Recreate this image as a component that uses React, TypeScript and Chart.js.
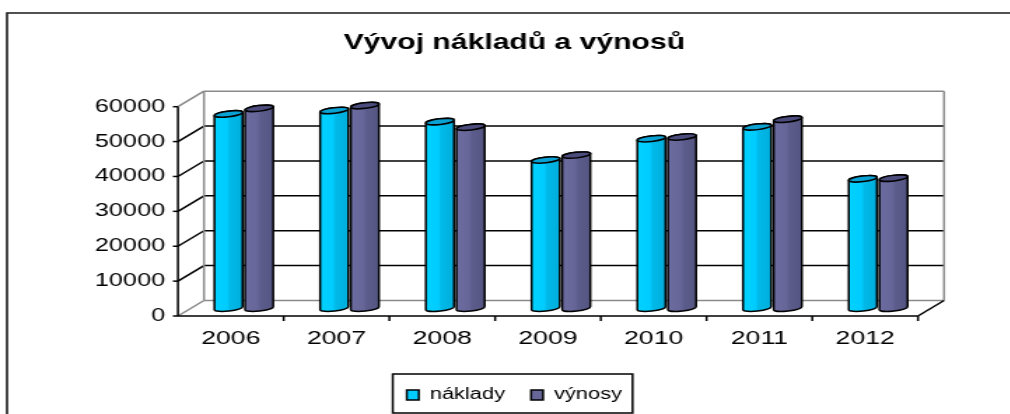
import React, { useEffect, useRef } from "react";
import { Chart, registerables } from "chart.js";

Chart.register(...registerables);

// ---------- data ----------
const categories = ["2006", "2007", "2008", "2009", "2010", "2011", "2012"];
const seriesNames = ["náklady", "výnosy"];
const naklady = [55700, 56700, 53500, 42500, 48600, 52000, 37100];
const vynosy = [57300, 58100, 51900, 43900, 49100, 54200, 37300];
const yMin = 0;
const yMax = 60000;
const yStep = 10000;
const titleText = "Vývoj nákladů a výnosů";

// ---------- style ----------
const STRETCH = 1.4;
const CANVAS_W = 722;
const CANVAS_H = 414;
const FONT = "'Liberation Sans', Arial, Helvetica, sans-serif";
const DEPTH_X = 18.6;
const DEPTH_Y = -15.5;
const GRAY = "#8a8a8a";
const BLACK = "#000000";
const CENTER_X = 367.4; // horizontal centre of title and legend (canvas units)
const fills = ["#00CCFF", "#666699"];
const bodyStops = [
  ["#00D2FF", "#00CCFF", "#00B9E8", "#00AEDC"],
  ["#6C6CA0", "#666699", "#5D5D8D", "#555582"],
];
const topFills = ["#0AA2D2", "#4C4C7C"];

function drawCylinder(ctx: CanvasRenderingContext2D, cx: number, w: number, topY: number, botY: number, si: number) {
  const rx = w / 2;
  const ry = 2.8;
  const rot = -0.16;
  const ex = rx * Math.cos(rot);
  const ey = rx * Math.sin(rot);
  const g = ctx.createLinearGradient(cx - rx, 0, cx + rx, 0);
  const st = bodyStops[si];
  g.addColorStop(0, st[0]);
  g.addColorStop(0.45, st[1]);
  g.addColorStop(0.55, st[2]);
  g.addColorStop(1, st[3]);
  ctx.save();
  ctx.lineWidth = 1.5;
  ctx.strokeStyle = BLACK;
  ctx.lineJoin = "round";
  ctx.beginPath();
  ctx.ellipse(cx, botY, rx, ry, rot, 0, Math.PI, false);
  ctx.lineTo(cx - ex, topY - ey);
  ctx.ellipse(cx, topY, rx, ry, rot, Math.PI, 2 * Math.PI, false);
  ctx.closePath();
  ctx.fillStyle = g;
  ctx.fill();
  ctx.stroke();
  ctx.beginPath();
  ctx.ellipse(cx, topY, rx, ry, rot, 0, 2 * Math.PI, false);
  ctx.fillStyle = topFills[si];
  ctx.fill();
  ctx.stroke();
  ctx.restore();
}

const threeD = {
  id: "threeD",
  afterLayout(chart: any) {
    const shiftBox = (b: any) => {
      if (!b) return;
      const w = b.right - b.left;
      b.left = CENTER_X - w / 2;
      b.right = CENTER_X + w / 2;
    };
    shiftBox(chart.titleBlock);
    shiftBox(chart.legend);
  },
  beforeDraw(chart: any) {
    const { ctx, width, height } = chart;
    ctx.save();
    ctx.fillStyle = "#ffffff";
    ctx.fillRect(0, 0, width, height);
    ctx.strokeStyle = "#1a1a1a";
    ctx.lineWidth = 1.6;
    ctx.beginPath();
    ctx.moveTo(5, height + 5);
    ctx.lineTo(5, 13);
    ctx.lineTo(width + 5, 13);
    ctx.stroke();
    ctx.restore();
  },
  beforeDatasetsDraw(chart: any) {
    const { ctx } = chart;
    const xs = chart.scales.x;
    const ys = chart.scales.y;
    const x0 = xs.left;
    const x1 = xs.right;
    const yB = ys.getPixelForValue(yMin);
    const yT = ys.getPixelForValue(yMax);
    ctx.save();
    ctx.lineWidth = 1.5;
    ctx.lineCap = "butt";
    const line = (ax: number, ay: number, bx: number, by: number, c: string) => {
      ctx.strokeStyle = c;
      ctx.beginPath();
      ctx.moveTo(ax, ay);
      ctx.lineTo(bx, by);
      ctx.stroke();
    };
    ys.ticks.forEach((t: any) => {
      const py = ys.getPixelForValue(t.value);
      const edge = t.value === yMin || t.value === yMax;
      const c = edge ? GRAY : BLACK;
      line(x0, py, x0 + DEPTH_X, py + DEPTH_Y, c);
      line(x0 + DEPTH_X, py + DEPTH_Y, x1 + DEPTH_X, py + DEPTH_Y, c);
      line(x0 - 3.6, py, x0, py, BLACK);
    });
    line(x0 + DEPTH_X, yT + DEPTH_Y, x0 + DEPTH_X, yB + DEPTH_Y, GRAY);
    line(x1 + DEPTH_X, yT + DEPTH_Y, x1 + DEPTH_X, yB + DEPTH_Y, GRAY);
    line(x1, yB, x1 + DEPTH_X, yB + DEPTH_Y, BLACK);
    line(x0, yT, x0, yB, BLACK);
    line(x0, yB, x1, yB, BLACK);
    for (let i = 1; i <= categories.length; i++) {
      const px = xs.getPixelForValue(i - 0.5);
      line(px, yB, px, yB + 5, BLACK);
    }
    ctx.restore();
  },
  beforeDatasetDraw() {
    return false;
  },
  afterDatasetsDraw(chart: any) {
    const { ctx } = chart;
    const items: any[] = [];
    chart.data.datasets.forEach((_ds: any, di: number) => {
      const meta = chart.getDatasetMeta(di);
      meta.data.forEach((bar: any) => {
        const p = bar.getProps(["x", "y", "base", "width"], true);
        items.push({
          cx: p.x + DEPTH_X / 2,
          w: p.width,
          top: p.y + DEPTH_Y / 2,
          bot: p.base + DEPTH_Y / 2,
          si: di,
        });
      });
    });
    items.sort((a, b) => a.cx - b.cx);
    items.forEach((it) => drawCylinder(ctx, it.cx, it.w, it.top, it.bot, it.si));
  },
  afterDraw(chart: any) {
    const lg = chart.legend;
    if (!lg || !lg.legendHitBoxes || !lg.legendHitBoxes.length) return;
    const hb = lg.legendHitBoxes;
    const first = hb[0];
    const last = hb[hb.length - 1];
    const cy = first.top + first.height / 2;
    const { ctx } = chart;
    ctx.save();
    ctx.strokeStyle = BLACK;
    ctx.lineWidth = 1.5;
    ctx.strokeRect(first.left - 10, cy - 21, last.left + last.width + 7.6 - (first.left - 10), 39);
    ctx.restore();
  },
};

export default function App() {
  const ref = useRef<HTMLCanvasElement | null>(null);
  useEffect(() => {
    if (!ref.current) return;
    const chart = new Chart(ref.current, {
      type: "bar",
      data: {
        labels: categories,
        datasets: [
          {
            label: seriesNames[0],
            data: naklady,
            backgroundColor: fills[0],
            borderColor: BLACK,
            borderWidth: 1.5,
            categoryPercentage: 0.58,
            barPercentage: 0.93,
          },
          {
            label: seriesNames[1],
            data: vynosy,
            backgroundColor: fills[1],
            borderColor: BLACK,
            borderWidth: 1.5,
            categoryPercentage: 0.58,
            barPercentage: 0.93,
          },
        ],
      },
      options: {
        responsive: false,
        maintainAspectRatio: false,
        animation: false,
        devicePixelRatio: 1,
        events: [],
        layout: { padding: { left: 5, right: CANVAS_W - 655.7, top: 0, bottom: 1.2 } },
        scales: {
          x: {
            type: "category",
            offset: true,
            grid: { display: false, drawTicks: false },
            border: { display: false },
            ticks: { color: BLACK, font: { family: FONT, size: 19 }, padding: 11.8, maxRotation: 0, autoSkip: false },
            afterFit: (s: any) => {
              s.height = 52.6;
            },
          },
          y: {
            min: yMin,
            max: yMax,
            grid: { display: false, drawTicks: false },
            border: { display: false },
            ticks: {
              stepSize: yStep,
              color: BLACK,
              font: { family: FONT, size: 18 },
              padding: 9.2,
              callback: (v: any) => String(v),
            },
            afterFit: (s: any) => {
              s.width = 122.1;
            },
          },
        },
        plugins: {
          tooltip: { enabled: false },
          title: {
            display: true,
            text: titleText,
            color: BLACK,
            font: { family: FONT, size: 21.5, weight: "bold", lineHeight: 1.2 },
            padding: { top: 30, bottom: 50.9 },
          },
          legend: {
            display: true,
            position: "bottom",
            labels: {
              color: BLACK,
              font: { family: FONT, size: 15.6 },
              boxWidth: 8.6,
              boxHeight: 10,
              padding: 18.6,
            },
          },
        },
      },
      plugins: [threeD],
    } as any);
    return () => chart.destroy();
  }, []);

  return (
    <div
      style={{
        position: "absolute",
        left: 0,
        top: 0,
        width: 1010,
        height: CANVAS_H,
        overflow: "hidden",
        background: "#ffffff",
      }}
    >
      <div
        style={{
          width: CANVAS_W,
          height: CANVAS_H,
          transform: `scaleX(${STRETCH})`,
          transformOrigin: "0 0",
        }}
      >
        <canvas ref={ref} width={CANVAS_W} height={CANVAS_H} style={{ display: "block" }} />
      </div>
    </div>
  );
}
